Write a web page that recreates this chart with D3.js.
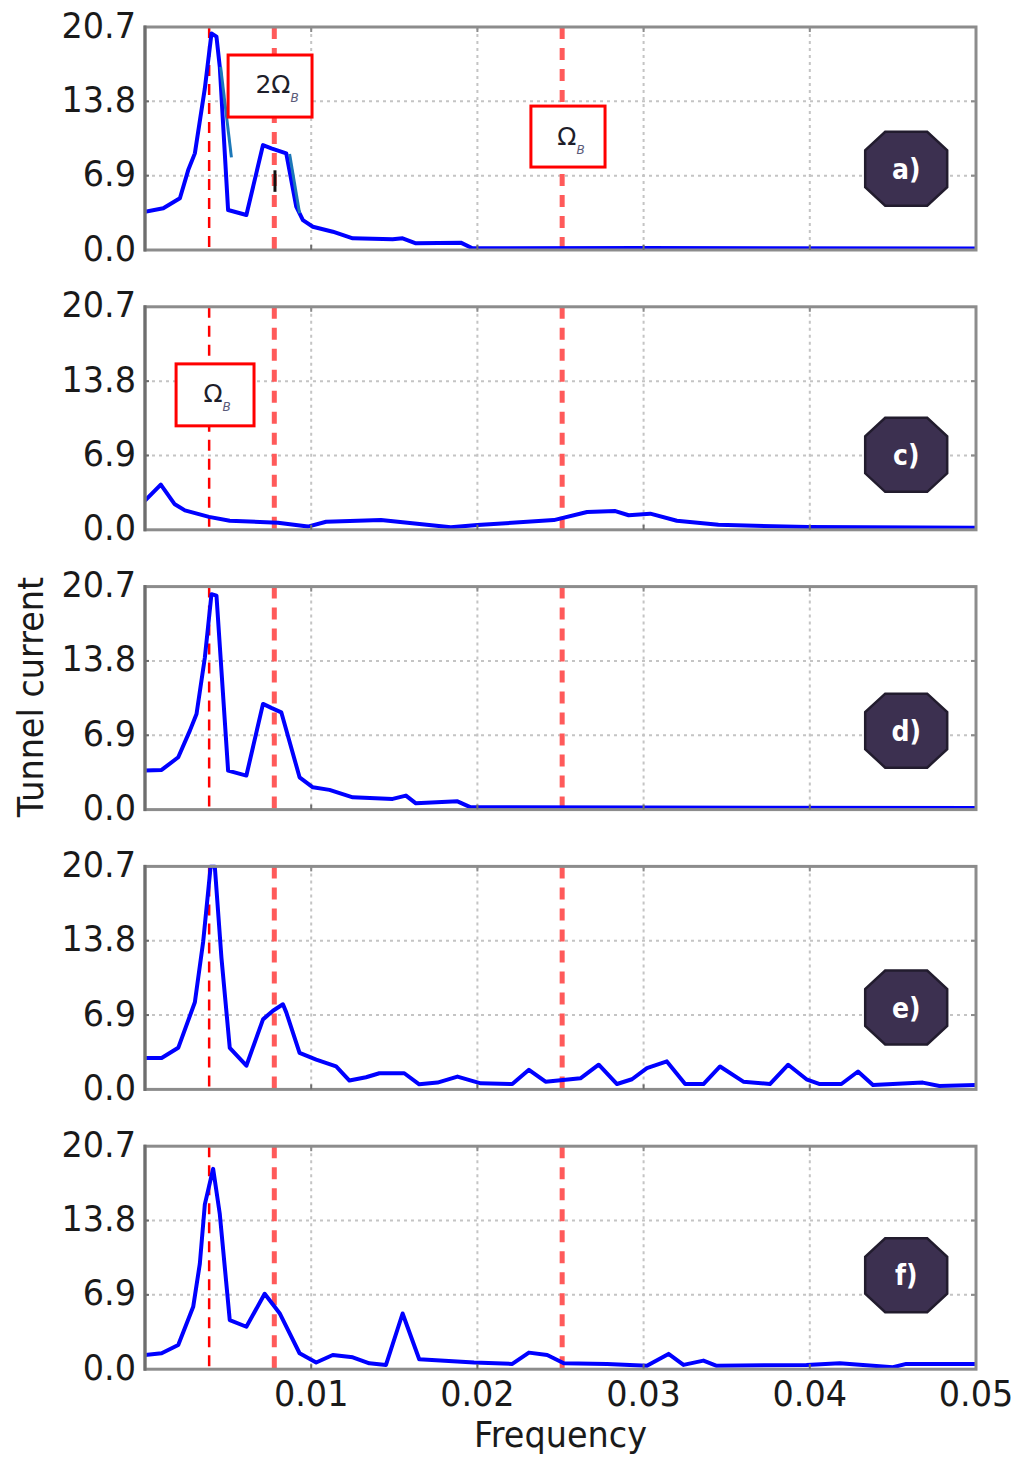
<!DOCTYPE html>
<html>
<head>
<meta charset="utf-8">
<script src="https://cdn.jsdelivr.net/npm/d3@7"></script>
<style>
  html, body { margin: 0; padding: 0; background: #fff; }
  svg { display: block; }
  text { font-family: "DejaVu Sans", "Liberation Sans", sans-serif; }
</style>
</head>
<body>
<svg id="chart" width="1020" height="1458"></svg>
<script>
// ---- spectra, one frequency / amplitude pair of arrays per panel ----
const freqA = [0, 0.0011, 0.0021, 0.0026, 0.003, 0.0036, 0.004, 0.0043, 0.0045, 0.005, 0.0061, 0.0071, 0.0076, 0.0085, 0.0091, 0.0095, 0.0101, 0.0113, 0.0125, 0.0149, 0.0155, 0.0163, 0.019, 0.0197, 0.03, 0.05];
const valA  = [3.55, 3.87, 4.8, 7.42, 8.97, 15.0, 20.1, 19.8, 17.0, 3.71, 3.25, 9.74, 9.44, 8.97, 4.02, 2.78, 2.16, 1.70, 1.08, 1.0, 1.08, 0.62, 0.68, 0.16, 0.18, 0.14];

const freqC = [0, 0.00095, 0.00177, 0.0024, 0.00385, 0.0051, 0.008, 0.0098, 0.0109, 0.0142, 0.0184, 0.020, 0.0246, 0.0266, 0.0283, 0.0291, 0.0304, 0.032, 0.0345, 0.0399, 0.05];
const valC  = [2.7, 4.2, 2.4, 1.8, 1.2, 0.84, 0.66, 0.3, 0.75, 0.9, 0.24, 0.45, 0.9, 1.65, 1.74, 1.35, 1.5, 0.84, 0.46, 0.25, 0.2];

const freqD = [0, 0.001, 0.002, 0.0027, 0.0031, 0.0036, 0.004, 0.0043, 0.005, 0.0061, 0.0071, 0.0076, 0.0082, 0.0093, 0.0101, 0.0111, 0.0125, 0.0149, 0.0157, 0.0163, 0.0188, 0.0196, 0.03, 0.05];
const valD  = [3.62, 3.68, 4.86, 7.33, 8.88, 14.1, 20.0, 19.86, 3.62, 3.16, 9.81, 9.44, 9.03, 3.0, 2.07, 1.83, 1.14, 0.99, 1.3, 0.58, 0.77, 0.21, 0.2, 0.15];

const freqE = [0, 0.001, 0.002, 0.003, 0.0035, 0.00395, 0.0042, 0.0046, 0.0051, 0.0061, 0.0071, 0.0077, 0.0083, 0.0085, 0.0093, 0.0103, 0.0115, 0.0123, 0.0133, 0.0141, 0.0156, 0.0165, 0.0176, 0.0188, 0.0202, 0.0221, 0.0231, 0.0241, 0.0262, 0.0273, 0.0284, 0.0293, 0.0302, 0.0314, 0.0325, 0.0336, 0.0346, 0.036, 0.0376, 0.0387, 0.0398, 0.0406, 0.0419, 0.0429, 0.0438, 0.0468, 0.0478, 0.05];
const valE  = [2.92, 2.92, 3.86, 8.09, 13.7, 20.7, 20.7, 12.2, 3.86, 2.2, 6.5, 7.3, 7.9, 7.15, 3.39, 2.76, 2.13, 0.82, 1.13, 1.5, 1.5, 0.47, 0.63, 1.19, 0.56, 0.5, 1.82, 0.72, 1.03, 2.29, 0.5, 0.94, 1.98, 2.6, 0.5, 0.5, 2.13, 0.72, 0.5, 2.29, 0.94, 0.5, 0.5, 1.66, 0.41, 0.63, 0.31, 0.41];

const freqF = [0, 0.001, 0.002, 0.0029, 0.0033, 0.0036, 0.0041, 0.0045, 0.0051, 0.0061, 0.0072, 0.0081, 0.0093, 0.0103, 0.0113, 0.0125, 0.0135, 0.0145, 0.0155, 0.0165, 0.0198, 0.0221, 0.0231, 0.0242, 0.0252, 0.0278, 0.0302, 0.0315, 0.0324, 0.0336, 0.0344, 0.0398, 0.0418, 0.045, 0.0458, 0.05];
const valF  = [1.32, 1.48, 2.25, 5.79, 9.8, 15.3, 18.6, 14.4, 4.56, 3.94, 7.0, 5.2, 1.48, 0.62, 1.32, 1.1, 0.55, 0.4, 5.17, 0.92, 0.62, 0.49, 1.54, 1.32, 0.55, 0.49, 0.31, 1.42, 0.4, 0.8, 0.31, 0.4, 0.55, 0.18, 0.49, 0.49];

// retouched strokes on top of panel a
const tealFreqA1 = [0.00455, 0.0052];
const tealValA1  = [17.0, 8.6];
const tealFreqA2 = [0.0087, 0.0093];
const tealValA2  = [8.9, 3.4];
const markFreqA  = [0.00782, 0.00782];
const markValA   = [7.4, 5.4];

// axes
const xTicks = [0.01, 0.02, 0.03, 0.04, 0.05];
const xTickLabels = ["0.01", "0.02", "0.03", "0.04", "0.05"];
const yTicks = [0, 6.9, 13.8, 20.7];
const yTickLabels = ["0.0", "6.9", "13.8", "20.7"];

// reference frequencies (Ω_B, 2Ω_B, and the higher marker)
const markerFreqs = [0.00386, 0.00778, 0.0251];

const panelLetters = ["a)", "c)", "d)", "e)", "f)"];
const badgeValues = [7.54, 6.96, 7.33, 7.6, 8.72];
const badgeFreq = 0.0458;

const panels = [
  { f: freqA, v: valA },
  { f: freqC, v: valC },
  { f: freqD, v: valD },
  { f: freqE, v: valE },
  { f: freqF, v: valF }
];

// boxed labels: panel index, frequency span, amplitude span, text
const notes = [
  { p: 0, f0: 0.0050, f1: 0.01005, v0: 12.34, v1: 18.1, main: "2Ω", sub: "B", dx: 7, dy: 7 },
  { p: 0, f0: 0.02322, f1: 0.02768, v0: 7.70, v1: 13.36, main: "Ω", sub: "B", dx: 3, dy: 8 },
  { p: 1, f0: 0.00187, f1: 0.00656, v0: 9.65, v1: 15.4, main: "Ω", sub: "B", dx: 2, dy: 7 }
];

// ---- layout ----
const svg = d3.select("#chart");
const left = 145, right = 976;
const plotH = 223;
const firstTop = 27, step = 279.8;
const FONT = 36, SQUEEZE = 0.93;

const x = d3.scaleLinear().domain([0, 0.05]).range([left, right]);

function squeeze(sel, k) {
  sel.each(function () {
    const w = this.getComputedTextLength();
    d3.select(this).attr("textLength", w * k).attr("lengthAdjust", "spacingAndGlyphs");
  });
}

const line = d3.line().curve(d3.curveLinear);

panels.forEach((pd, i) => {
  const top = firstTop + i * step;
  const bottom = top + plotH;
  const y = d3.scaleLinear().domain([0, 20.7]).range([bottom, top]);
  const g = svg.append("g");

  const clipId = "clip" + i;
  svg.append("clipPath").attr("id", clipId)
    .append("rect").attr("x", left).attr("y", top - 2).attr("width", right - left).attr("height", plotH + 2);

  // dotted grid
  g.append("g").selectAll("line").data(xTicks.slice(0, 4)).join("line")
    .attr("x1", d => x(d)).attr("x2", d => x(d)).attr("y1", top).attr("y2", bottom)
    .attr("stroke", "#c4c4c4").attr("stroke-width", 2).attr("stroke-dasharray", "3,4");
  g.append("g").selectAll("line").data(yTicks.slice(1, 3)).join("line")
    .attr("x1", left).attr("x2", right).attr("y1", d => y(d)).attr("y2", d => y(d))
    .attr("stroke", "#c4c4c4").attr("stroke-width", 2).attr("stroke-dasharray", "3,4");

  // reference frequency markers
  g.append("line")
    .attr("x1", x(markerFreqs[0])).attr("x2", x(markerFreqs[0])).attr("y1", top).attr("y2", bottom)
    .attr("stroke", "#ff0000").attr("stroke-width", 2.5).attr("stroke-dasharray", "11,8");
  markerFreqs.slice(1).forEach(fq => {
    g.append("line")
      .attr("x1", x(fq)).attr("x2", x(fq)).attr("y1", top).attr("y2", bottom)
      .attr("stroke", "#ff5a5a").attr("stroke-width", 5).attr("stroke-dasharray", "12,9");
  });

  // spectrum
  const pts = pd.f.map((fq, k) => [x(fq), y(pd.v[k])]);
  g.append("path").attr("d", line(pts)).attr("clip-path", `url(#${clipId})`)
    .attr("fill", "none").attr("stroke", "#0000ff").attr("stroke-width", 4)
    .attr("stroke-linejoin", "round").attr("stroke-linecap", "round");

  if (i === 0) {
    [[tealFreqA1, tealValA1], [tealFreqA2, tealValA2]].forEach(([ff, vv]) => {
      g.append("path").attr("d", line(ff.map((fq, k) => [x(fq), y(vv[k])])))
        .attr("fill", "none").attr("stroke", "#1c78b8").attr("stroke-width", 3);
    });
    g.append("path").attr("d", line(markFreqA.map((fq, k) => [x(fq), y(markValA[k])])))
      .attr("fill", "none").attr("stroke", "#111").attr("stroke-width", 3);
  }

  // frame and inward ticks
  g.append("rect").attr("x", left).attr("y", top).attr("width", right - left).attr("height", plotH)
    .attr("fill", "none").attr("stroke", "#8c8c8c").attr("stroke-width", 3);
  g.append("line").attr("x1", left).attr("x2", left).attr("y1", top - 1.5).attr("y2", bottom + 1.5)
    .attr("stroke", "#6e6e6e").attr("stroke-width", 3);
  g.append("g").selectAll("line").data(yTicks.slice(1, 3)).join("line")
    .attr("x1", left).attr("x2", left + 4).attr("y1", d => y(d)).attr("y2", d => y(d))
    .attr("stroke", "#6e6e6e").attr("stroke-width", 2);
  g.append("g").selectAll("line").data(yTicks.slice(1, 3)).join("line")
    .attr("x1", right - 5).attr("x2", right).attr("y1", d => y(d)).attr("y2", d => y(d))
    .attr("stroke", "#8c8c8c").attr("stroke-width", 2);
  g.append("g").selectAll("line").data(xTicks.slice(0, 4)).join("line")
    .attr("x1", d => x(d)).attr("x2", d => x(d)).attr("y1", top).attr("y2", top + 5)
    .attr("stroke", "#8c8c8c").attr("stroke-width", 2);
  g.append("g").selectAll("line").data(xTicks.slice(0, 4)).join("line")
    .attr("x1", d => x(d)).attr("x2", d => x(d)).attr("y1", bottom - 5).attr("y2", bottom)
    .attr("stroke", "#6e6e6e").attr("stroke-width", 2);

  // y tick labels
  g.append("g").selectAll("text").data(yTicks).join("text")
    .attr("x", 136).attr("y", d => y(d) + 10.5)
    .attr("text-anchor", "end").attr("font-size", FONT).attr("fill", "#1a1a1a")
    .text((d, k) => yTickLabels[k])
    .call(squeeze, SQUEEZE);

  // panel badge
  const bx = x(badgeFreq), by = y(badgeValues[i]);
  const oct = [[-21, -37], [21, -37], [41, -18.5], [41, 18.5], [21, 37], [-21, 37], [-41, 18.5], [-41, -18.5]];
  const badge = g.append("g").attr("transform", `translate(${bx},${by})`);
  badge.append("polygon").attr("points", oct.map(p => p.join(",")).join(" "))
    .attr("fill", "#3c3050").attr("stroke", "#221c2e").attr("stroke-width", 2.5);
  badge.append("text").attr("x", 0).attr("y", 10).attr("text-anchor", "middle")
    .attr("font-size", 28).attr("font-weight", "bold").attr("fill", "#ffffff")
    .text(panelLetters[i])
    .call(squeeze, 0.9);

  // boxed frequency labels
  notes.filter(n => n.p === i).forEach(n => {
    const x0 = x(n.f0), x1 = x(n.f1), y0 = y(n.v1), y1 = y(n.v0);
    g.append("rect").attr("x", x0).attr("y", y0).attr("width", x1 - x0).attr("height", y1 - y0)
      .attr("fill", "#ffffff").attr("stroke", "#ff0000").attr("stroke-width", 3);
    const t = g.append("text")
      .attr("x", (x0 + x1) / 2 + n.dx).attr("y", (y0 + y1) / 2 + n.dy)
      .attr("text-anchor", "middle").attr("font-size", 25).attr("fill", "#1e1e2a");
    t.append("tspan").text(n.main);
    t.append("tspan").attr("dy", 9).attr("font-size", 12).attr("font-style", "italic")
      .attr("fill", "#5a5a78").text(n.sub);
  });

  // x tick labels under the bottom panel only
  if (i === panels.length - 1) {
    g.append("g").selectAll("text").data(xTicks).join("text")
      .attr("x", d => x(d)).attr("y", bottom + 37)
      .attr("text-anchor", "middle").attr("font-size", FONT).attr("fill", "#1a1a1a")
      .text((d, k) => xTickLabels[k])
      .call(squeeze, SQUEEZE);
  }
});

// axis titles
svg.append("text").attr("x", x(0.025)).attr("y", 1447)
  .attr("text-anchor", "middle").attr("font-size", FONT).attr("fill", "#1a1a1a")
  .text("Frequency").call(squeeze, SQUEEZE);

svg.append("text").attr("transform", "translate(43,697) rotate(-90)")
  .attr("text-anchor", "middle").attr("font-size", FONT).attr("fill", "#1a1a1a")
  .text("Tunnel current").call(squeeze, SQUEEZE);
</script>
</body>
</html>
